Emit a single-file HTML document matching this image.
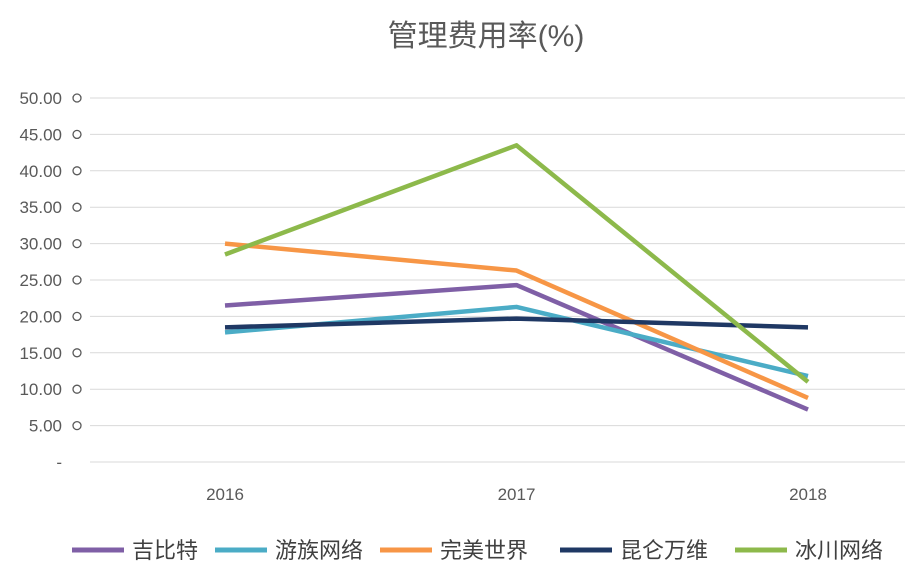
<!DOCTYPE html>
<html><head><meta charset="utf-8"><style>
body{margin:0;background:#fff;}
svg text{font-family:"Liberation Sans","Noto Sans CJK SC",sans-serif;}
</style></head><body>
<svg id="chart" width="922" height="579" xmlns="http://www.w3.org/2000/svg">
<text x="486" y="46" font-size="30" fill="#595959" text-anchor="middle">管理费用率(%)</text>
<g id="grid"></g><g id="yticks"></g><g id="xticks"></g><g id="lines"></g><g id="legend"></g>
</svg>
<script>
const categories=["2016","2017","2018"];
const seriesNames=["吉比特","游族网络","完美世界","昆仑万维","冰川网络"];
const s0=[21.5,24.3,7.2];
const s1=[17.8,21.3,11.8];
const s2=[30.0,26.3,8.8];
const s3=[18.5,19.7,18.5];
const s4=[28.5,43.5,11.0];
const yTicks=[0,5,10,15,20,25,30,35,40,45,50];
const colors=["#7f5fa6","#4bacc6","#f79646","#1f3864","#8db94b"];
const series=[s0,s1,s2,s3,s4];
const ns="http://www.w3.org/2000/svg";
const y=v=>462-v*7.28;
const x=i=>225+i*291.5;
function mk(t,a,p){const e=document.createElementNS(ns,t);for(const k in a)e.setAttribute(k,a[k]);p.appendChild(e);return e;}
const g=document.getElementById('grid'),yt=document.getElementById('yticks'),xt=document.getElementById('xticks'),ln=document.getElementById('lines'),lg=document.getElementById('legend');
yTicks.forEach(v=>{
 const l=mk('line',{x1:90,x2:905,y1:y(v),y2:y(v),stroke:'#d9d9d9','stroke-width':1},g);
 
 
 const t=mk('text',{x:v===0?62:62,y:y(v)+6,'font-size':17,fill:'#595959','text-anchor':'end'},yt);
 t.textContent=v===0?'-':v.toFixed(2)+' ';
 
 
 if(v>0){const c=mk('circle',{cx:77,cy:y(v),r:4,fill:'none',stroke:'#595959','stroke-width':1.3},yt);
 
 }
});
categories.forEach((c,i)=>{
 const t=mk('text',{x:x(i),y:500,'font-size':17,fill:'#595959','text-anchor':'middle'},xt);
 t.textContent=c;
 
 
});
series.forEach((s,k)=>{
 const p=mk('polyline',{points:s.map((v,i)=>x(i)+','+y(v)).join(' '),fill:'none',stroke:colors[k],'stroke-width':4.5,'stroke-linejoin':'round'},ln);
 
 
});
const lx=[72,215,380,560,735];
seriesNames.forEach((n,k)=>{
 const l=mk('line',{x1:lx[k],x2:lx[k]+52,y1:550,y2:550,stroke:colors[k],'stroke-width':5},lg);
 
 
 const t=mk('text',{x:lx[k]+60,y:558,'font-size':22,fill:'#404040'},lg);
 t.textContent=n;
 
 
});
</script>
</body></html>
